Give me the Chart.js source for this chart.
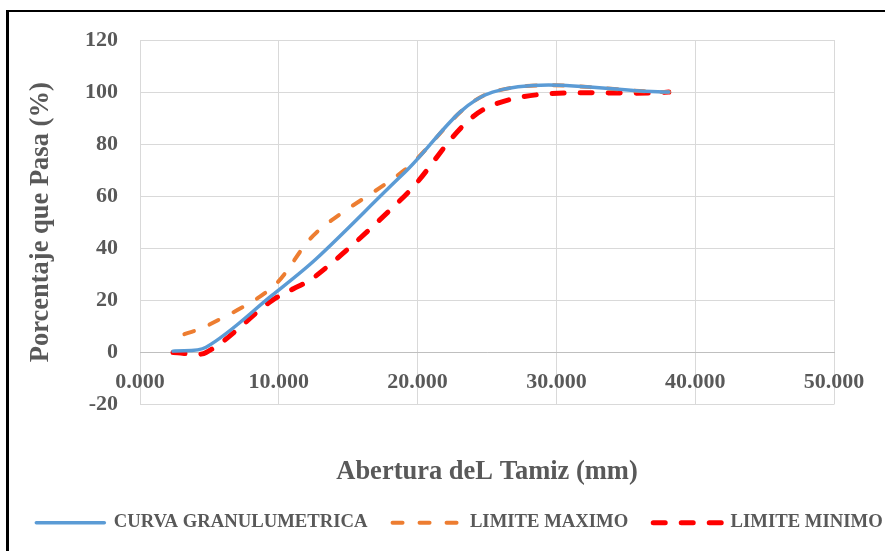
<!DOCTYPE html>
<html>
<head>
<meta charset="utf-8">
<script src="https://cdn.jsdelivr.net/npm/chart.js@4.4.1/dist/chart.umd.min.js"></script>
<style>
  html, body { margin: 0; padding: 0; background: #fff; overflow: hidden; }
  #marco { position: absolute; left: 6px; top: 10px; width: 1000px; height: 1000px;
           border-left: 3px solid #000; border-top: 2px solid #000; }
  #grafico { position: absolute; left: 0; top: 0; }
</style>
</head>
<body>
<div id="marco"></div>
<canvas id="grafico" width="885" height="551"></canvas>
<script>
// Curva granulométrica con límites.

// aberturas de tamiz (mm)
const aberturas = [2.38, 4.76, 9.525, 12.7, 19.05, 25.4, 38.1];
const aberturasMaximo = [3.2, 4.76, 9.525, 12.7, 19.05, 25.4, 38.1];

// % que pasa
const curvaGranulometrica = [0.5, 2, 22, 36, 69, 100, 100];
const limiteMaximo = [7, 10, 25, 46, 70, 100, 100];
const limiteMinimo = [0, 0, 20, 29.5, 60, 95, 100];

const xTicks = [0, 10, 20, 30, 40, 50];
const yTicks = [-20, 0, 20, 40, 60, 80, 100, 120];

const COLORS = {
  blue: "#5b9bd5",
  orange: "#ed7d31",
  red: "#ff0000",
  text: "#595959",
  grid: "#d9d9d9",
  axis: "#bfbfbf",
};

const FONT = '"Liberation Serif", "Times New Roman", serif';

function puntos(xs, ys) {
  return xs.map((x, i) => ({ x, y: ys[i] }));
}

Chart.defaults.font.family = FONT;
Chart.defaults.font.weight = "bold";
Chart.defaults.color = COLORS.text;

new Chart(document.getElementById("grafico"), {
  type: "line",
  data: {
    datasets: [
      {
        label: "CURVA GRANULUMETRICA",
        data: puntos(aberturas, curvaGranulometrica),
        borderColor: COLORS.blue,
        backgroundColor: COLORS.blue,
        borderWidth: 3.5,
        borderCapStyle: "round",
        tension: 0.33,
        pointRadius: 0,
      },
      {
        label: "LIMITE MAXIMO",
        data: puntos(aberturasMaximo, limiteMaximo),
        borderColor: COLORS.orange,
        backgroundColor: COLORS.orange,
        borderWidth: 4,
        borderDash: [10, 17],
        borderCapStyle: "round",
        tension: 0.33,
        pointRadius: 0,
      },
      {
        label: "LIMITE MINIMO",
        data: puntos(aberturas, limiteMinimo),
        borderColor: COLORS.red,
        backgroundColor: COLORS.red,
        borderWidth: 5,
        borderDash: [12, 16],
        borderCapStyle: "round",
        tension: 0.33,
        pointRadius: 0,
      },
    ],
  },
  options: {
    responsive: false,
    animation: false,
    devicePixelRatio: 1,
    // el lado derecho negativo deja que la leyenda quepa en una sola fila
    layout: { padding: { left: 10, right: -24, top: 40, bottom: 9 } },
    plugins: {
      tooltip: { enabled: false },
      legend: {
        position: "bottom",
        labels: {
          usePointStyle: true,
          pointStyleWidth: 68,
          padding: 25,
          color: COLORS.text,
          font: { size: 18.7, weight: "bold", family: FONT },
          generateLabels: (chart) => chart.data.datasets.map((ds, i) => ({
            text: ds.label,
            strokeStyle: ds.borderColor,
            fillStyle: ds.borderColor,
            lineWidth: ds.borderWidth,
            lineDash: ds.borderDash || [],
            lineCap: "round",
            pointStyle: "line",
            fontColor: COLORS.text,
            hidden: false,
            datasetIndex: i,
          })),
        },
      },
    },
    scales: {
      x: {
        type: "linear",
        position: { y: 0 },
        min: xTicks[0],
        max: xTicks[xTicks.length - 1],
        afterBuildTicks: (s) => { s.ticks = xTicks.map((v) => ({ value: v })); },
        ticks: {
          callback: (v) => Number(v).toFixed(3),
          padding: 17,
          color: COLORS.text,
          font: { size: 22, weight: "bold", family: FONT },
          maxRotation: 0,
        },
        grid: { color: COLORS.grid, drawTicks: false },
        border: { color: COLORS.axis },
      },
      x2: {
        type: "linear",
        position: "bottom",
        display: true,
        min: 0,
        max: 50,
        ticks: { display: false },
        grid: { display: false, drawTicks: false },
        border: { display: false },
        title: {
          display: true,
          text: "Abertura deL Tamiz (mm)",
          color: COLORS.text,
          font: { size: 26.5, weight: "bold", family: FONT },
          padding: { top: 52, bottom: 0 },
        },
      },
      y: {
        type: "linear",
        position: "left",
        min: yTicks[0],
        max: yTicks[yTicks.length - 1],
        afterBuildTicks: (s) => { s.ticks = yTicks.map((v) => ({ value: v })); },
        afterFit: (s) => { s.width = 130; },
        ticks: {
          padding: 22,
          color: COLORS.text,
          font: { size: 22, weight: "bold", family: FONT },
        },
        grid: { color: COLORS.grid, drawTicks: false },
        border: { display: false },
        title: {
          display: true,
          text: "Porcentaje que Pasa (%)",
          color: COLORS.text,
          font: { size: 26.5, weight: "bold", family: FONT },
          padding: { top: 15, bottom: 4 },
        },
      },
      // eje vacío a la derecha: solo reserva el margen del área de trazado
      y2: {
        type: "linear",
        position: "right",
        display: true,
        afterFit: (s) => { s.width = 75; },
        ticks: { display: false },
        grid: { display: false, drawTicks: false },
        border: { display: false },
      },
    },
  },
});
</script>
</body>
</html>
